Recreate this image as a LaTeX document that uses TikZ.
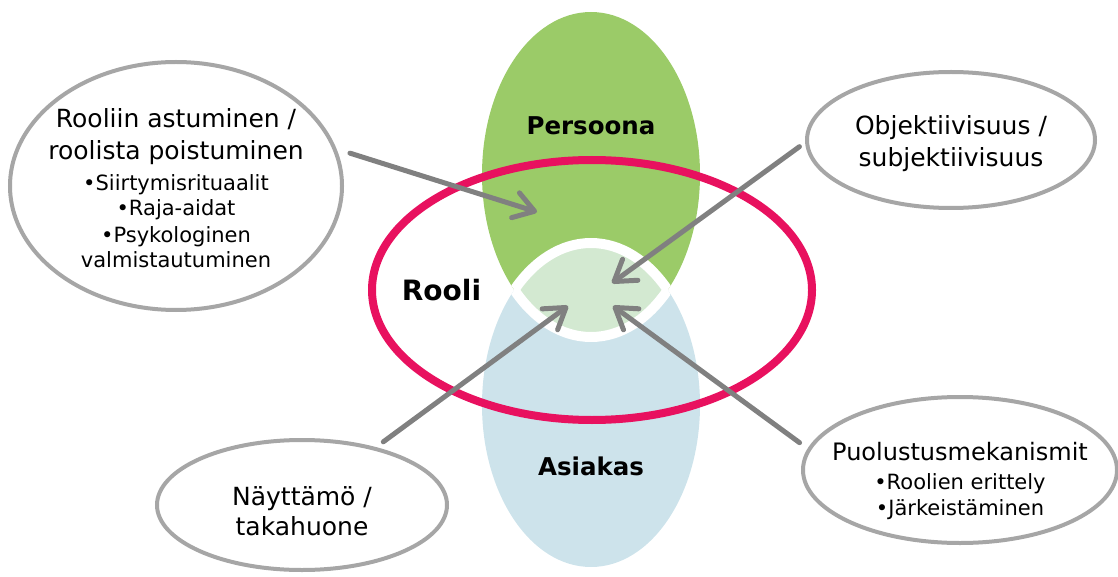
\documentclass[tikz,border=0pt]{standalone}
\usepackage{fontspec}
\setmainfont{DejaVu Sans}
\usetikzlibrary{arrows.meta,shapes.geometric}
\definecolor{pgreen}{HTML}{9BCB68}
\definecolor{pblue}{HTML}{CDE3EB}
\definecolor{plens}{HTML}{D3E9D1}
\definecolor{rred}{HTML}{E8115F}
\definecolor{cgray}{HTML}{A6A6A6}
\definecolor{agray}{HTML}{808080}
\newcommand\bigsz{\fontsize{25}{26}\selectfont}
\tikzset{
  callout/.style={ellipse, draw=cgray, line width=4pt, fill=white, inner sep=0pt},
  ctext/.style={align=center, inner sep=0pt},
  biglabel/.style={font=\bfseries\fontsize{24.5}{28}\selectfont},
  arr/.style={draw=agray, line width=5pt, line cap=round, -{Straight Barb[length=20pt,width=26pt,round]}},
  greenell/.style={x radius=109pt, y radius=162.5pt},
  blueell/.style={x radius=109pt, y radius=162pt},
}
\begin{document}
\begin{tikzpicture}[x=1pt,y=-1pt]
\useasboundingbox (0,0) rectangle (1118,577);
% Venn ellipses
\fill[pgreen] (591,174.5) ellipse [greenell];
\fill[pblue] (591,405) ellipse [blueell];
\begin{scope}
  \clip (591,174.5) ellipse [greenell];
  \fill[plens] (591,405) ellipse [blueell];
  \draw[white, line width=10pt] (591,405) ellipse [blueell];
\end{scope}
\begin{scope}
  \clip (591,405) ellipse [blueell];
  \draw[white, line width=10pt] (591,174.5) ellipse [greenell];
\end{scope}
% role ellipse
\draw[rred, line width=8pt] (592,290) ellipse [x radius=220pt, y radius=130pt];
% labels
\node[biglabel] (pers) at (591,126) {Persoona};
\node[biglabel] (asia) at (591,466) {Asiakas};
\node[font=\bfseries\fontsize{28}{32}\selectfont] (rooli) at (441.5,290) {Rooli};
% callouts
\node[callout, minimum width=332pt, minimum height=248pt] (L) at (176,186) {};
\node[ctext, font=\fontsize{21}{26}\selectfont] (Lt) at (176,188)
  {\bigsz Rooliin astuminen /\\[6pt]\bigsz roolista poistuminen\\[5pt]•Siirtymisrituaalit\\[-1pt]•Raja-aidat\\[1pt]•Psykologinen\\[-1pt]valmistautuminen};
\node[callout, minimum width=288pt, minimum height=136pt] (R) at (951,140) {};
\node[ctext, font=\fontsize{25}{32}\selectfont] (Rt) at (951,144)
  {Objektiivisuus /\\subjektiivisuus};
\node[callout, minimum width=314pt, minimum height=146pt] (B) at (960,470) {};
\node[ctext, font=\fontsize{21}{26}\selectfont] (Bt) at (960,481)
  {\fontsize{24}{26}\selectfont Puolustusmekanismit\\[3pt]•Roolien erittely\\•Järkeistäminen};
\node[callout, minimum width=290pt, minimum height=130pt] (N) at (302,505) {};
\node[ctext, font=\fontsize{25}{30}\selectfont] (Nt) at (302,511)
  {Näyttämö /\\takahuone};
% arrow targets
\coordinate (t1) at (537,212);
\coordinate (t2) at (612,283);
\coordinate (t3) at (568,306);
\coordinate (t4) at (613,306);
\draw[arr, shorten <=14pt] (L.13.5) -- (t1);
\draw[arr, shorten <=7pt] (R.181) -- (t2);
\draw[arr, shorten <=9pt] (N.38.7) -- (t3);
\draw[arr, shorten <=10pt] (B.172) -- (t4);
\end{tikzpicture}
\end{document}
